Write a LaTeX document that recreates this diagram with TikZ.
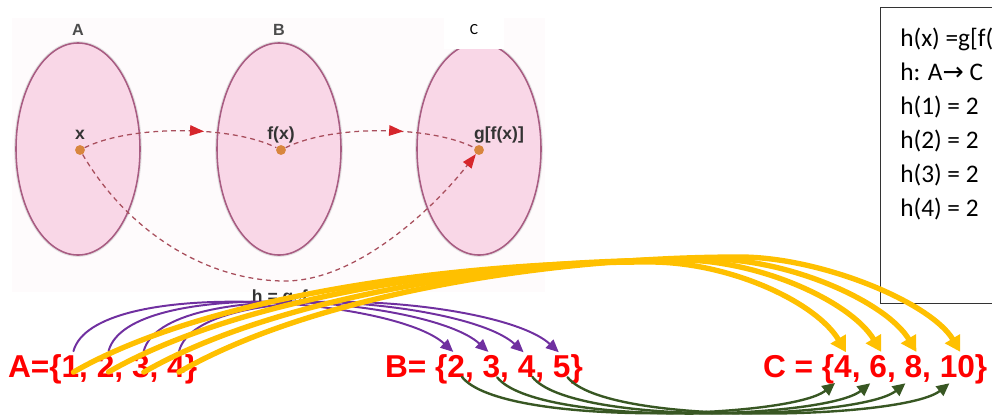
\documentclass[tikz,border=0pt]{standalone}
\usepackage{fontspec}
\setmainfont{Liberation Sans}
\newfontfamily\carlito{Carlito}
\newfontfamily\dejavu{DejaVu Sans}
\usetikzlibrary{
  arrows.meta,
  shapes.geometric,
  positioning,
  calc,
  decorations.markings
}
\definecolor{setred}{RGB}{255,0,0}
\definecolor{purp}{RGB}{112,48,160}
\definecolor{gold}{RGB}{255,192,0}
\definecolor{darkgrn}{RGB}{56,87,35}
\definecolor{ovalpink}{RGB}{249,215,231}
\definecolor{ovalrim}{RGB}{168,92,130}
\definecolor{dashred}{RGB}{168,78,92}
\definecolor{tipred}{RGB}{214,38,44}
\definecolor{dotorange}{RGB}{216,134,62}
\definecolor{imgtint}{RGB}{254,251,252}
\tikzset{
  oval/.style={
    ellipse, draw=ovalrim, fill=ovalpink, line width=1.1pt,
    minimum width=3.1cm, minimum height=5.3cm,
    preaction={draw=black!30, line width=2.6pt, opacity=0.35}
  },
  dot/.style={circle, fill=dotorange, inner sep=0pt, minimum size=7pt},
  imglabel/.style={font=\bfseries\fontsize{11.5}{13}\selectfont, text=black!70},
  ptlabel/.style={font=\bfseries\fontsize{12.5}{14}\selectfont, text=black!80},
  dashline/.style={draw=dashred, line width=0.9pt, dash pattern=on 3.5pt off 2.8pt},
  midarrow/.style={
    postaction={decorate, decoration={markings,
      mark=at position #1 with {\arrow{Triangle[length=10pt, width=7.5pt, color=tipred]}}}}
  },
  setlabel/.style={
    font=\bfseries\fontsize{22.5}{26}\selectfont, text=setred,
    inner sep=0pt, outer sep=0pt, anchor=base west
  },
  boxtext/.style={
    font=\carlito\fontsize{18}{24.2}\selectfont, align=left,
    inner sep=0pt, anchor=north west
  },
  purparrow/.style={draw=purp, line width=1.4pt, line cap=round,
    -{Triangle[length=9pt, width=8pt]}},
  goldarrow/.style={draw=gold, line width=3.8pt, line cap=round,
    -{Triangle[length=11pt, width=12pt]}},
  grnarrow/.style={draw=darkgrn, line width=1.7pt, line cap=round,
    -{Triangle[length=9pt, width=8.5pt]}}
}

\begin{document}
\begin{tikzpicture}[x=0.025cm, y=-0.025cm]
\useasboundingbox (0,0) rectangle (992,414);
\clip (0,0) rectangle (992,414);

% Pasted figure
\fill[imgtint] (12,18) rectangle (545,292);
\node[oval] (ovA) at (78,149) {};
\node[oval] (ovB) at (279,149) {};
\node[oval] (ovC) at (479,149) {};
\node[imglabel, above=1pt of ovA] (labA) {A};
\node[imglabel, above=1pt of ovB] (labB) {B};
\node[fill=white, minimum width=1.48cm, minimum height=0.93cm,
      font=\carlito\fontsize{11}{13}\selectfont] (labC) at (474,30) {C};

\node[dot] (dA) at (80,150) {};
\node[dot] (dB) at (281,150) {};
\node[dot] (dC) at (479,150) {};
\node[ptlabel, anchor=base] (labx) at ($(dA)+(0,-11)$) {x};
\node[ptlabel, anchor=base] (labfx) at ($(dB)+(0,-11)$) {f(x)};
\node[ptlabel, anchor=base] (labgfx) at ($(dC)+(20,-11)$) {g[f(x)]};

\draw[dashline, midarrow=0.62] (dA) .. controls +(50,-25) and +(-50,-25) .. (dB);
\draw[dashline, midarrow=0.62] (dB) .. controls +(50,-25) and +(-50,-25) .. (dC);
\node[ptlabel, anchor=base west] (hlab) at (247,302) {h = g$\circ$f};
\coordinate (hlow) at (285,281);
\draw[dashline, -{Triangle[length=10pt, width=7.5pt, color=tipred]}]
  (dA) .. controls +(50,85) and +(-75,0) .. (hlow)
       .. controls +(75,0) and +(-40,52) .. (dC);

% Text box
\node[draw=black!80, line width=0.7pt, anchor=north west,
      minimum width=4cm, minimum height=7.4cm] (hbox) at (880,7) {};
\node[boxtext] (htext) at (900,28)
  {h(x) =g[f(x)]\\ h: A{\dejavu →} C\\ h(1) = 2\\ h(2) = 2\\ h(3) = 2\\ h(4) = 2};

% Sets
\node[setlabel] (as0) at (8,377) {A=\{};
\foreach \v [count=\i, remember=\i as \j (initially 0)] in {1,2,3,4} {
  \node[setlabel] (a\i) at (as\j.base east) {\v};
  \node[setlabel] (as\i) at (a\i.base east) {\ifnum\i<4 ,\kern0.278em\else\}\fi};
}
\node[setlabel] (bs0) at (385,377) {B= \{};
\foreach \v [count=\i, remember=\i as \j (initially 0)] in {2,3,4,5} {
  \node[setlabel] (b\i) at (bs\j.base east) {\v};
  \node[setlabel] (bs\i) at (b\i.base east) {\ifnum\i<4 ,\kern0.278em\else\}\fi};
}
\node[setlabel] (cs0) at (763,377) {C = \{};
\foreach \v [count=\i, remember=\i as \j (initially 0)] in {4,6,8,10} {
  \node[setlabel] (c\i) at (cs\j.base east) {\v};
  \node[setlabel] (cs\i) at (c\i.base east) {\ifnum\i<4 ,\kern0.278em\else\}\fi};
}

% f : A -> B
\foreach \i in {1,...,4}
  \draw[purparrow] ($(a\i.north)+(3,-4)$) .. controls +(20,-75) and +(-60,-55) .. ($(b\i.north)+(-3,-3)$);

% h : A -> C
\foreach \i/\px/\py in {1/650/262,2/680/260,3/710/259,4/740/257}
  \draw[goldarrow] ($(a\i.center)+(3,6)$) .. controls +(130,-75) and +(-200,0) .. (\px,\py)
    .. controls +(80,0) and +(-30,-50) .. ($(c\i.north)+(3,-3)$);

% g : B -> C
\foreach \i in {1,...,4}
  \draw[grnarrow] ($(b\i.south east)+(-3,0)$) .. controls +(40,50) and +(-45,36) .. ($(c\i.south)+(-8,6)$);

\end{tikzpicture}
\end{document}
